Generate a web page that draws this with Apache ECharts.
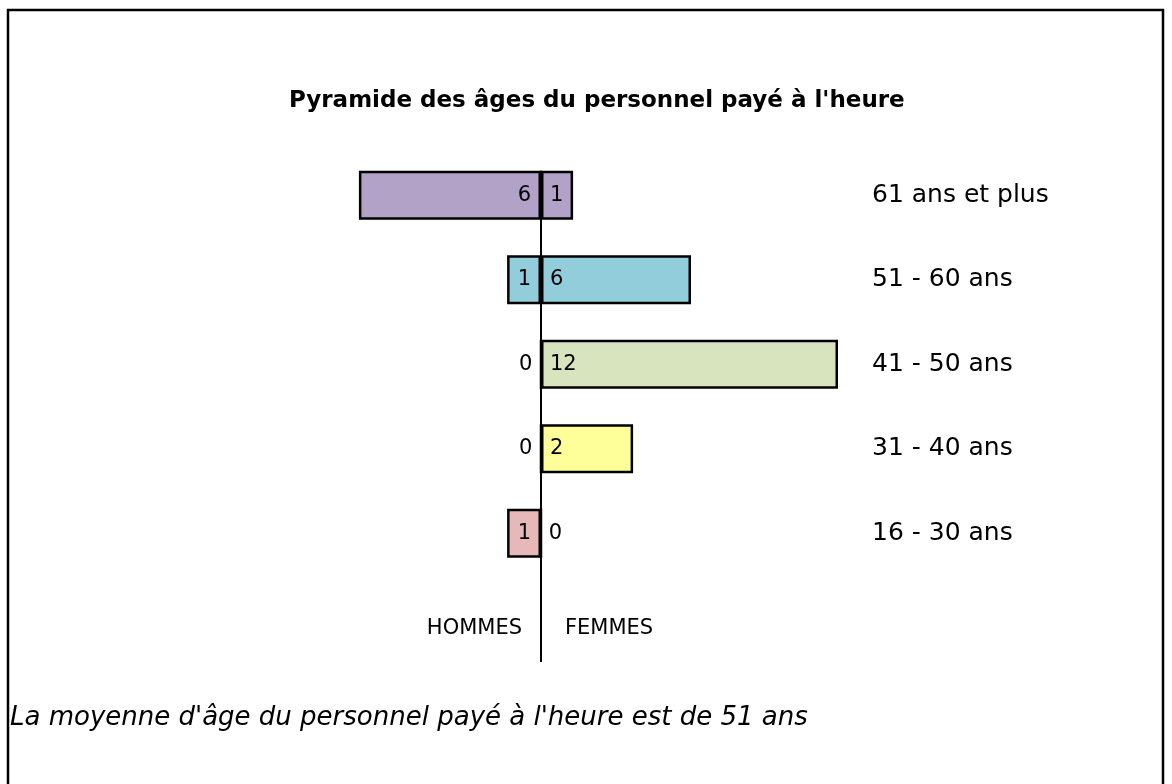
<!DOCTYPE html>
<html><head><meta charset="utf-8">
<script src="https://cdn.jsdelivr.net/npm/echarts@6/dist/echarts.min.js"></script>
<style>html,body{margin:0;padding:0;background:#fff}#c{width:1172px;height:784px}</style>
</head><body><div id="c"></div>
<script>
// Tranches d'âge (haut -> bas) ; la dernière ligne porte les libellés HOMMES / FEMMES
const categories = ['61 ans et plus', '51 - 60 ans', '41 - 50 ans', '31 - 40 ans', '16 - 30 ans', ''];
// Effectifs affichés
const hommesLabels = ['6', '1', '0', '0', '1', 'HOMMES'];
const femmesLabels = ['1', '6', '12', '2', '0', 'FEMMES'];
const hommesBar = [-6.07, -1.13, 0, 0, -1.13, 0];
const femmesBar = [1.07, 5.0, 9.9, 3.07, 0, 0];
const colors = ['#b2a2c7', '#92cddc', '#d7e4bd', '#ffff99', '#e6b9b8'];
const titleText = "Pyramide des âges du personnel payé à l'heure";
const noteText = "La moyenne d'âge du personnel payé à l'heure est de 51 ans";

const FONT = 'DejaVu Sans';
const chart = echarts.init(document.getElementById('c'), null, {renderer: 'canvas'});

function makeData(vals, labels, side) {
  return vals.map((v, i) => {
    const last = i === vals.length - 1;
    return {
      value: v,
      label: {formatter: labels[i], distance: last ? (side === 'h' ? 19 : 24) : (side === 'h' ? 10 : 9), offset: last ? [0, 11] : [0, 0]},
      itemStyle: last ? {color: 'transparent', borderWidth: 0} : {color: colors[i]}
    };
  });
}

chart.setOption({
  animation: false,
  title: {
    text: titleText, left: 284, top: 85,
    textStyle: {fontFamily: FONT, fontSize: 23, fontWeight: 'bold', color: '#000'}
  },
  grid: {left: 301, right: 301, top: 153, bottom: 124, containLabel: false},
  xAxis: {type: 'value', min: -8, max: 11, show: false},
  yAxis: {
    type: 'category', data: categories, inverse: true, position: 'right',
    axisLine: {show: false}, axisTick: {show: false}, splitLine: {show: false},
    axisLabel: {align: 'left', margin: 1, fontFamily: FONT, fontSize: 25, color: '#000'}
  },
  series: [
    {
      name: 'Hommes', type: 'bar', data: makeData(hommesBar, hommesLabels, 'h'),
      barWidth: 49, barGap: '-100%',
      itemStyle: {borderColor: '#000', borderWidth: 2.5},
      label: {show: true, position: 'insideRight', fontFamily: FONT, fontSize: 21, color: '#000'}
    },
    {
      name: 'Femmes', type: 'bar', data: makeData(femmesBar, femmesLabels, 'f'),
      barWidth: 49, barGap: '-100%',
      itemStyle: {borderColor: '#000', borderWidth: 2.5},
      label: {show: true, position: 'insideLeft', fontFamily: FONT, fontSize: 21, color: '#000'}
    }
  ]
});

// Axe vertical central : du haut de la première barre jusqu'au bas de la zone
const x0 = chart.convertToPixel({xAxisIndex: 0}, 0);
const yFirst = chart.convertToPixel({yAxisIndex: 0}, categories[0]);
const grid = chart.getModel().getComponent('grid').coordinateSystem.getRect();
chart.setOption({
  graphic: [
    {type: 'rect', shape: {x: 8, y: 10, width: 1155, height: 800}, style: {fill: 'none', stroke: '#000', lineWidth: 2.5}, silent: true, z: 0},
    {type: 'line', shape: {x1: x0, y1: yFirst - 24.5, x2: x0, y2: grid.y + grid.height + 2}, style: {stroke: '#000', lineWidth: 2}, z: 100},
    {type: 'text', left: 10, top: 705, style: {text: noteText, font: 'italic 26px "' + FONT + '"', fill: '#000'}}
  ]
});
</script></body></html>
